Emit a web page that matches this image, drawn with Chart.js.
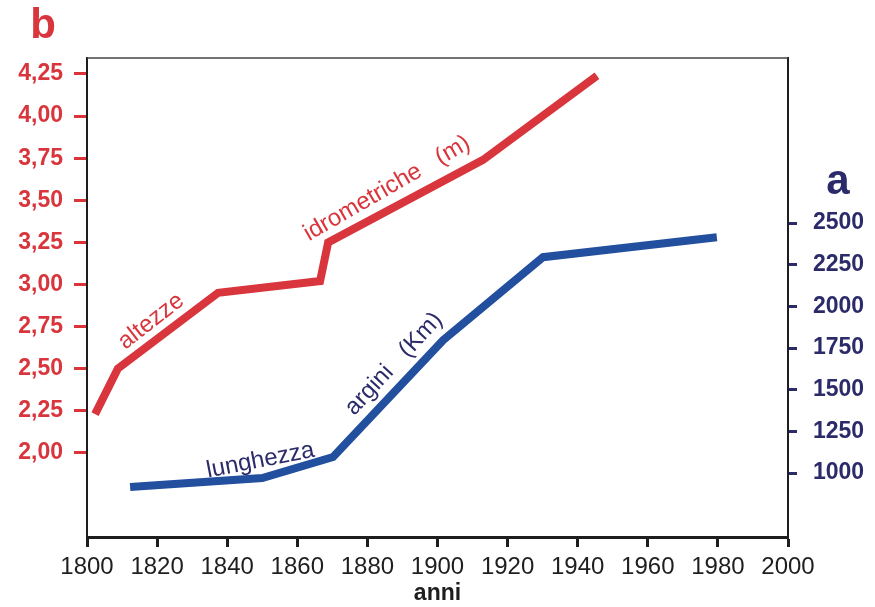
<!DOCTYPE html>
<html>
<head>
<meta charset="utf-8">
<script src="https://cdn.jsdelivr.net/npm/chart.js@4.4.0/dist/chart.umd.min.js"></script>
<style>
  html, body { margin: 0; padding: 0; background: #fff; }
  #wrap { width: 875px; height: 607px; }
</style>
</head>
<body>
<div id="wrap"><canvas id="c"></canvas></div>
<script>
// altezze idrometriche (m) - left axis
const altezzeYears = [1802.3, 1808.8, 1837.4, 1866.5, 1868.8, 1913, 1945.5];
const altezzeValues = [2.23, 2.50, 2.95, 3.02, 3.25, 3.74, 4.24];

// lunghezza argini (Km) - right axis
const arginiYears = [1812.3, 1850, 1870.2, 1901.6, 1930.1, 1979.7];
const arginiValues = [916, 970, 1096, 1797, 2295, 2415];

const yearTicks = [1800, 1820, 1840, 1860, 1880, 1900, 1920, 1940, 1960, 1980, 2000];
const altezzeTicks = [2.00, 2.25, 2.50, 2.75, 3.00, 3.25, 3.50, 3.75, 4.00, 4.25];
const arginiTicks = [1000, 1250, 1500, 1750, 2000, 2250, 2500];

const RED = "#d9353c";
const BLUE = "#234f9f";
const NAVY = "#2c2b6a";
const INK = "#1e1e1e";
const FONT = "'Liberation Sans', Arial, sans-serif";

const toPoints = (xs, ys) => xs.map((x, i) => ({ x: x, y: ys[i] }));

// frame top line, panel letters and the labels written along the lines
const decorations = {
  id: "decorations",
  afterDraw(chart) {
    const { ctx, chartArea, scales } = chart;
    ctx.save();
    ctx.strokeStyle = "#444";
    ctx.lineWidth = 1.5;
    ctx.beginPath();
    ctx.moveTo(chartArea.left, chartArea.top);
    ctx.lineTo(chartArea.right, chartArea.top);
    ctx.stroke();

    ctx.textAlign = "center";
    ctx.textBaseline = "middle";
    ctx.fillStyle = RED;
    ctx.font = "bold 42px " + FONT;
    ctx.fillText("b", 43, 26);
    ctx.fillStyle = NAVY;
    ctx.fillText("a", 838, 182);

    const labels = [
      { text: "altezze", x: 1818.3, y: 2.78, axis: "yL", angle: -38, color: RED },
      { text: "idrometriche   (m)", x: 1885.6, y: 3.57, axis: "yL", angle: -30, color: RED },
      { text: "lunghezza", x: 1849.5, y: 1075, axis: "yR", angle: -11, color: NAVY },
      { text: "argini   (Km)", x: 1887.6, y: 1655, axis: "yR", angle: -47, color: NAVY }
    ];
    ctx.font = "24px " + FONT;
    labels.forEach((l) => {
      const px = scales.x.getPixelForValue(l.x);
      const py = scales[l.axis].getPixelForValue(l.y);
      ctx.save();
      ctx.translate(px, py);
      ctx.rotate(l.angle * Math.PI / 180);
      ctx.fillStyle = l.color;
      ctx.fillText(l.text, 0, 0);
      ctx.restore();
    });
    ctx.restore();
  }
};

new Chart(document.getElementById("c"), {
  type: "line",
  data: {
    datasets: [
      {
        label: "altezze idrometriche (m)",
        data: toPoints(altezzeYears, altezzeValues),
        yAxisID: "yL",
        borderColor: RED,
        borderWidth: 8,
        pointRadius: 0,
        tension: 0,
        borderJoinStyle: "miter"
      },
      {
        label: "lunghezza argini (Km)",
        data: toPoints(arginiYears, arginiValues),
        yAxisID: "yR",
        borderColor: BLUE,
        borderWidth: 8,
        pointRadius: 0,
        tension: 0,
        borderJoinStyle: "miter"
      }
    ]
  },
  options: {
    responsive: true,
    maintainAspectRatio: false,
    animation: false,
    layout: { padding: { top: 58, left: 0, right: 0, bottom: 0 } },
    plugins: {
      legend: { display: false },
      tooltip: { enabled: false }
    },
    scales: {
      x: {
        type: "linear",
        position: "bottom",
        min: 1800,
        max: 2000,
        afterBuildTicks: (s) => { s.ticks = yearTicks.map((v) => ({ value: v })); },
        afterFit: (s) => { s.height = 70; },
        ticks: {
          color: INK,
          font: { family: FONT, size: 24 },
          padding: 6,
          maxRotation: 0,
          autoSkip: false,
          callback: (v) => String(v)
        },
        grid: { drawOnChartArea: false, tickLength: 10, tickWidth: 3, tickColor: INK },
        border: { color: INK, width: 3 },
        title: {
          display: true,
          text: "anni",
          color: INK,
          font: { family: FONT, size: 23, weight: "bold" },
          padding: { top: 0, bottom: 0 }
        }
      },
      yL: {
        type: "linear",
        position: "left",
        min: 1.5,
        max: 4.345,
        afterBuildTicks: (s) => { s.ticks = altezzeTicks.map((v) => ({ value: v })); },
        afterFit: (s) => { s.width = 87; },
        ticks: {
          color: RED,
          font: { family: FONT, size: 23, weight: "bold" },
          padding: 11,
          callback: (v) => v.toFixed(2).replace(".", ",")
        },
        grid: { drawOnChartArea: false, tickLength: 13, tickWidth: 3, tickColor: RED },
        border: { color: INK, width: 2 }
      },
      yR: {
        type: "linear",
        position: "right",
        min: 616,
        max: 3490,
        afterBuildTicks: (s) => { s.ticks = arginiTicks.map((v) => ({ value: v })); },
        afterFit: (s) => { s.width = 87; },
        ticks: {
          color: NAVY,
          font: { family: FONT, size: 23, weight: "bold" },
          padding: 16,
          callback: (v) => String(v)
        },
        grid: { drawOnChartArea: false, tickLength: 9, tickWidth: 3, tickColor: NAVY },
        border: { color: INK, width: 2 }
      }
    }
  },
  plugins: [decorations]
});
</script>
</body>
</html>
